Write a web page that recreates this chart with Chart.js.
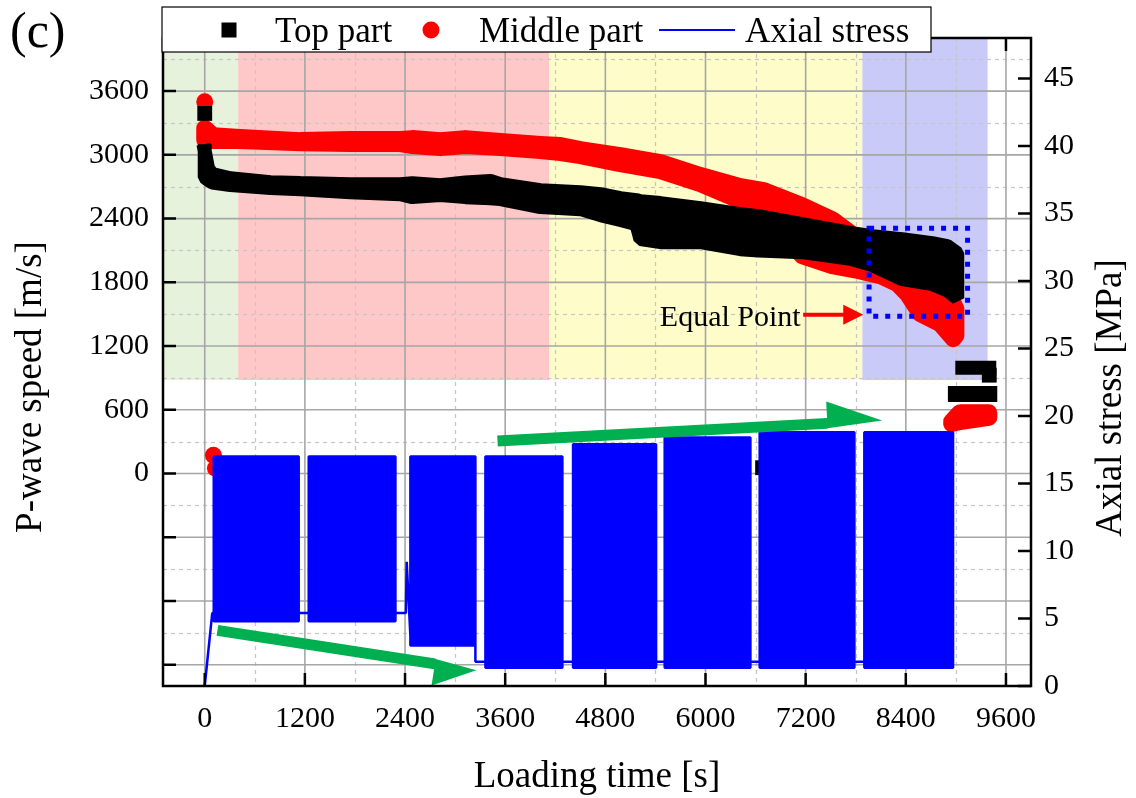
<!DOCTYPE html>
<html>
<head>
<meta charset="utf-8">
<title>P-wave speed and axial stress versus loading time</title>
<script src="https://cdn.jsdelivr.net/npm/chart.js@4.4.1/dist/chart.umd.min.js"></script>
<style>
  html, body { margin: 0; padding: 0; background: #ffffff; }
  canvas { display: block; }
</style>
</head>
<body>
<canvas id="chart" width="1136" height="798"></canvas>
<script>
// ---------- axes ----------
const timeTicks   = [0, 1200, 2400, 3600, 4800, 6000, 7200, 8400, 9600];
const speedTicks  = [-1800, -1200, -600, 0, 600, 1200, 1800, 2400, 3000, 3600];
const stressTicks = [0, 5, 10, 15, 20, 25, 30, 35, 40, 45];

// ---------- loading phases shaded behind the P-wave data ----------
const phaseStart = [-500, 400, 4130, 7880];
const phaseEnd   = [400, 4130, 7880, 9380];
const phaseColor = ['#E7F2DD', '#FFC8C8', '#FEFDC9', '#CACAF8'];
const phaseFloor = 880; // m/s

// ---------- Top part: P-wave speed spread (upper / lower edge of the scatter) ----------
const topTime  = [0, 40, 92, 308, 788, 1146, 1745, 2344, 2488, 2823, 3123, 3423, 3543, 4022, 4501, 4741, 4980, 5172, 5220, 5460, 5939, 6419, 6635, 7158, 7757, 7997, 8356, 8716, 8896, 9016];
const topUpper = [3035, 2870, 2819, 2780, 2743, 2734, 2724, 2724, 2734, 2715, 2740, 2755, 2724, 2668, 2649, 2630, 2593, 2574, 2564, 2546, 2498, 2442, 2423, 2348, 2263, 2235, 2206, 2169, 2141, 2075];
const topLower = [2790, 2765, 2740, 2715, 2687, 2677, 2649, 2630, 2602, 2621, 2602, 2592, 2583, 2508, 2489, 2433, 2386, 2348, 2207, 2178, 2178, 2112, 2100, 2084, 2018, 1962, 1830, 1783, 1726, 1651];
// after failure: two runs of readings at nearly constant speed
const topTailATime  = [9077, 9400];
const topTailASpeed = [996, 996];
const topTailBTime  = [9000, 9400];
const topTailBSpeed = [748, 748];
// isolated readings
const topPointTime  = [0, 6684, 9400];
const topPointSpeed = [3390, 55, 926];

// ---------- Middle part ----------
const midTime  = [0, 100, 420, 1146, 1745, 2344, 2488, 2823, 3123, 3543, 4022, 4262, 4501, 4980, 5460, 5939, 6419, 6700, 7158, 7518, 7840, 8094, 8298, 8418, 8574, 8813, 8969, 9000];
const midUpper = [3250, 3181, 3163, 3134, 3144, 3144, 3153, 3134, 3153, 3125, 3097, 3087, 3049, 2993, 2927, 2805, 2701, 2663, 2522, 2390, 2202, 2120, 2050, 2000, 1930, 1800, 1600, 1550];
const midLower = [3140, 3134, 3134, 3115, 3106, 3106, 3087, 3068, 3087, 3068, 3040, 3021, 2993, 2918, 2852, 2729, 2569, 2450, 2051, 1957, 1910, 1863, 1788, 1693, 1505, 1411, 1270, 1300];
const midTailTime  = [8950, 9050, 9395];
const midTailUpper = [490, 573, 573];
const midTailLower = [470, 490, 530];
const midPointTime  = [0, 104, 128];
const midPointSpeed = [3500, 172, 50];

// ---------- Axial stress: cyclic loading envelope (peak / trough per moment) ----------
const stressTime = [0, 90, 108, 108, 1126, 1126, 1246, 1246, 2285, 2285, 2410, 2420, 2464, 2464, 3243, 3243, 3363, 3363, 4285, 4285, 4413, 4413, 5408, 5408, 5511, 5511, 6538, 6538, 6649, 6649, 7784, 7784, 7903, 7903, 8966, 8966];
const stressHigh = [0, 5.4, 5.4, 17.0, 17.0, 5.4, 5.4, 17.0, 17.0, 5.4, 5.4, 9.2, 3.7, 17.0, 17.0, 1.8, 1.8, 17.0, 17.0, 1.8, 1.8, 17.9, 17.9, 1.8, 1.8, 18.4, 18.4, 1.8, 1.8, 18.8, 18.8, 1.8, 1.8, 18.8, 18.8, 1.35];
const stressLow  = [0, 5.4, 5.4, 4.8, 4.8, 5.4, 5.4, 4.8, 4.8, 5.4, 5.4, 9.2, 3.7, 3.0, 3.0, 1.8, 1.8, 1.35, 1.35, 1.8, 1.8, 1.35, 1.35, 1.8, 1.8, 1.35, 1.35, 1.8, 1.8, 1.35, 1.35, 1.8, 1.8, 1.35, 1.35, 1.35];

// ---------- annotations (data units) ----------
const equalBox   = { t0: 7960, t1: 9140, v0: 1480, v1: 2310 };
const equalLabel = { t: 7140, v: 1390, text: 'Equal Point' };
const equalArrow = { t0: 7170, t1: 7890, v: 1494 };
const trendArrows = [
  { t0: 152,  v0: -1476, t1: 3255, v1: -1852, up: 5,  down: 22, head: 42 },
  { t0: 3508, v0: 306,   t1: 8118, v1: 500,   up: 22, down: 5,  head: 55 }
];

const SERIF = 'Liberation Serif';

function bandPoints(time, upper, lower) {
  const pts = time.map((t, i) => ({ x: t, y: upper[i] }));
  for (let i = time.length - 1; i >= 0; i--) pts.push({ x: time[i], y: lower[i] });
  pts.push({ x: time[0], y: upper[0] });
  return pts;
}
function pointList(time, values) {
  return time.map((t, i) => ({ x: t, y: values[i] }));
}
function bandDataset(label, data, axis, color, width, join, order) {
  return {
    label, data, yAxisID: axis,
    borderColor: color, backgroundColor: color, borderWidth: width,
    borderJoinStyle: join, borderCapStyle: join === 'round' ? 'round' : 'square',
    fill: 'shape', pointRadius: 0, pointHoverRadius: 0, tension: 0, order
  };
}
function runDataset(label, data, color, width, order) {
  return {
    label, data, yAxisID: 'y',
    borderColor: color, backgroundColor: color, borderWidth: width,
    borderCapStyle: 'square', fill: false, pointRadius: 0, pointHoverRadius: 0, order
  };
}

function drawArrow(ctx, x0, y0, x1, y1, o) {
  const len = Math.hypot(x1 - x0, y1 - y0);
  const dx = (x1 - x0) / len, dy = (y1 - y0) / len;
  const nx = dy, ny = -dx;
  const bx = x1 - dx * o.head, by = y1 - dy * o.head;
  ctx.beginPath();
  ctx.moveTo(x0 + nx * o.shaft, y0 + ny * o.shaft);
  ctx.lineTo(bx + nx * o.shaft, by + ny * o.shaft);
  ctx.lineTo(bx + nx * o.up, by + ny * o.up);
  ctx.lineTo(x1, y1);
  ctx.lineTo(bx - nx * o.down, by - ny * o.down);
  ctx.lineTo(bx - nx * o.shaft, by - ny * o.shaft);
  ctx.lineTo(x0 - nx * o.shaft, y0 - ny * o.shaft);
  ctx.closePath();
  ctx.fillStyle = o.color;
  ctx.fill();
}

function minorValues(ticks, min, max) {
  const step = ticks[1] - ticks[0];
  const out = [];
  for (let i = -1; i < ticks.length; i++) {
    const v = (i < 0 ? ticks[0] : ticks[i]) + (i < 0 ? -step / 2 : step / 2);
    if (v > min && v < max) out.push(v);
  }
  return out;
}

const decor = {
  id: 'decor',
  beforeDatasetsDraw(chart) {
    const { ctx, chartArea: a, scales } = chart;
    const xs = scales.x, ys = scales.y;
    ctx.save();
    // loading phases
    const floorY = ys.getPixelForValue(phaseFloor);
    phaseStart.forEach((s, i) => {
      const x0 = Math.max(a.left, xs.getPixelForValue(s));
      const x1 = Math.min(a.right, xs.getPixelForValue(phaseEnd[i]));
      ctx.fillStyle = phaseColor[i];
      ctx.fillRect(x0, a.top, x1 - x0, floorY - a.top);
    });
    // minor grid
    ctx.strokeStyle = '#c6c6c6';
    ctx.lineWidth = 1.2;
    ctx.setLineDash([4, 4]);
    minorValues(timeTicks, xs.min, xs.max).forEach(v => {
      const x = Math.round(xs.getPixelForValue(v)) + 0.5;
      ctx.beginPath(); ctx.moveTo(x, a.top); ctx.lineTo(x, a.bottom); ctx.stroke();
    });
    minorValues(speedTicks, ys.min, ys.max).forEach(v => {
      const y = Math.round(ys.getPixelForValue(v)) + 0.5;
      ctx.beginPath(); ctx.moveTo(a.left, y); ctx.lineTo(a.right, y); ctx.stroke();
    });
    // major grid
    ctx.setLineDash([]);
    ctx.strokeStyle = '#a6a6a6';
    ctx.lineWidth = 1.6;
    timeTicks.forEach(v => {
      const x = xs.getPixelForValue(v);
      ctx.beginPath(); ctx.moveTo(x, a.top); ctx.lineTo(x, a.bottom); ctx.stroke();
    });
    speedTicks.forEach(v => {
      const y = ys.getPixelForValue(v);
      ctx.beginPath(); ctx.moveTo(a.left, y); ctx.lineTo(a.right, y); ctx.stroke();
    });
    ctx.restore();
  },
  afterDatasetsDraw(chart) {
    const { ctx, chartArea: a, scales } = chart;
    const xs = scales.x, ys = scales.y, y2 = scales.y2;
    ctx.save();

    // trend arrows
    trendArrows.forEach(ar => {
      drawArrow(ctx,
        xs.getPixelForValue(ar.t0), ys.getPixelForValue(ar.v0),
        xs.getPixelForValue(ar.t1), ys.getPixelForValue(ar.v1),
        { shaft: 5.5, up: ar.up, down: ar.down, head: ar.head, color: '#00B050' });
    });

    // equal point box, label and arrow
    const bx0 = xs.getPixelForValue(equalBox.t0), bx1 = xs.getPixelForValue(equalBox.t1);
    const by0 = ys.getPixelForValue(equalBox.v1), by1 = ys.getPixelForValue(equalBox.v0);
    ctx.strokeStyle = '#0000FF';
    ctx.lineWidth = 5;
    ctx.setLineDash([5, 7]);
    ctx.strokeRect(bx0, by0, bx1 - bx0, by1 - by0);
    ctx.setLineDash([]);

    ctx.fillStyle = '#000';
    ctx.font = '30px "' + SERIF + '"';
    ctx.textAlign = 'right';
    ctx.textBaseline = 'alphabetic';
    ctx.fillText(equalLabel.text, xs.getPixelForValue(equalLabel.t), ys.getPixelForValue(equalLabel.v));
    const ay = ys.getPixelForValue(equalArrow.v);
    drawArrow(ctx, xs.getPixelForValue(equalArrow.t0), ay, xs.getPixelForValue(equalArrow.t1), ay,
      { shaft: 2, up: 10, down: 10, head: 20, color: '#FF0000' });

    // frame and inward ticks
    ctx.strokeStyle = '#000';
    ctx.lineWidth = 2.5;
    ctx.strokeRect(a.left, a.top, a.right - a.left, a.bottom - a.top);
    const tl = 13;
    ctx.beginPath();
    timeTicks.forEach(v => {
      const x = xs.getPixelForValue(v);
      ctx.moveTo(x, a.bottom); ctx.lineTo(x, a.bottom - tl);
      ctx.moveTo(x, a.top); ctx.lineTo(x, a.top + tl);
    });
    speedTicks.forEach(v => {
      const y = ys.getPixelForValue(v);
      ctx.moveTo(a.left, y); ctx.lineTo(a.left + tl, y);
    });
    stressTicks.forEach(v => {
      const y = y2.getPixelForValue(v);
      ctx.moveTo(a.right, y); ctx.lineTo(a.right - tl, y);
    });
    ctx.stroke();
    ctx.restore();
  },
  afterDraw(chart) {
    const { ctx, chartArea: a } = chart;
    ctx.save();

    // legend
    ctx.fillStyle = '#fff';
    ctx.fillRect(162, 7, 769, 45);
    ctx.strokeStyle = '#000';
    ctx.lineWidth = 1.2;
    ctx.strokeRect(162, 7, 769, 45);
    const ly = 30;
    const entries = [
      { ds: 1, marker: 'square', mx: 229, tx: 275 },
      { ds: 5, marker: 'circle', mx: 431, tx: 479 },
      { ds: 0, marker: 'line',   mx: 697, tx: 745 }
    ];
    ctx.font = '35px "' + SERIF + '"';
    ctx.textAlign = 'left';
    ctx.textBaseline = 'alphabetic';
    entries.forEach(e => {
      const d = chart.data.datasets[e.ds];
      ctx.fillStyle = d.borderColor;
      ctx.strokeStyle = d.borderColor;
      if (e.marker === 'square') ctx.fillRect(e.mx - 7.5, ly - 7.5, 15, 15);
      else if (e.marker === 'circle') { ctx.beginPath(); ctx.arc(e.mx, ly, 8.5, 0, Math.PI * 2); ctx.fill(); }
      else { ctx.lineWidth = 2; ctx.beginPath(); ctx.moveTo(e.mx - 38, ly); ctx.lineTo(e.mx + 38, ly); ctx.stroke(); }
      ctx.fillStyle = '#000';
      ctx.fillText(d.label, e.tx, 41.5);
    });

    // panel letter
    ctx.font = '50px "' + SERIF + '"';
    ctx.fillText('(c)', 10, 47);

    // axis titles
    ctx.font = '37px "' + SERIF + '"';
    ctx.textAlign = 'center';
    ctx.fillText('Loading time [s]', (a.left + a.right) / 2, 787);
    ctx.save();
    ctx.translate(41, 387);
    ctx.rotate(-Math.PI / 2);
    ctx.fillText('P-wave speed [m/s]', 0, 0);
    ctx.restore();
    ctx.save();
    ctx.translate(1121, 398);
    ctx.rotate(-Math.PI / 2);
    ctx.fillText('Axial stress [MPa]', 0, 0);
    ctx.restore();

    ctx.restore();
  }
};

const tickFont = { family: SERIF, size: 30 };
const noGrid = { display: false, drawTicks: false, tickLength: 0 };

new Chart(document.getElementById('chart'), {
  type: 'line',
  data: {
    datasets: [
      bandDataset('Axial stress', bandPoints(stressTime, stressHigh, stressLow), 'y2', '#0000FF', 2.5, 'bevel', 0),
      bandDataset('Top part', bandPoints(topTime, topUpper, topLower), 'y', '#000000', 14, 'bevel', 1),
      runDataset('Top part, after failure A', pointList(topTailATime, topTailASpeed), '#000000', 14, 1),
      runDataset('Top part, after failure B', pointList(topTailBTime, topTailBSpeed), '#000000', 16, 1),
      {
        label: 'Top part, single readings', data: pointList(topPointTime, topPointSpeed), yAxisID: 'y',
        showLine: false, pointStyle: 'rect', pointRadius: 10.5, pointBorderWidth: 0,
        pointBackgroundColor: '#000000', borderColor: '#000000', order: 1
      },
      bandDataset('Middle part', bandPoints(midTime, midUpper, midLower), 'y', '#FF0000', 17, 'round', 2),
      bandDataset('Middle part, after failure', bandPoints(midTailTime, midTailUpper, midTailLower), 'y', '#FF0000', 17, 'round', 2),
      {
        label: 'Middle part, single readings', data: pointList(midPointTime, midPointSpeed), yAxisID: 'y',
        showLine: false, pointStyle: 'circle', pointRadius: 8.5, pointBorderWidth: 0,
        pointBackgroundColor: '#FF0000', borderColor: '#FF0000', order: 2
      }
    ]
  },
  options: {
    responsive: false,
    devicePixelRatio: 1,
    animation: false,
    events: [],
    layout: { padding: { top: 38, left: 0, right: 0, bottom: 0 } },
    plugins: { legend: { display: false }, tooltip: { enabled: false } },
    scales: {
      x: {
        type: 'linear', position: 'bottom', min: -500, max: 9900,
        afterBuildTicks: s => { s.ticks = timeTicks.map(v => ({ value: v })); },
        afterFit: s => { s.height = 112; },
        grid: noGrid, border: { display: false },
        ticks: { autoSkip: false, maxRotation: 0, padding: 15, color: '#000', font: tickFont, callback: v => String(v) }
      },
      y: {
        type: 'linear', position: 'left', min: -2000, max: 4100,
        afterBuildTicks: s => { s.ticks = speedTicks.map(v => ({ value: v })); },
        afterFit: s => { s.width = 163; },
        grid: noGrid, border: { display: false },
        ticks: { autoSkip: false, padding: 14, color: '#000', font: tickFont, callback: v => (v >= 0 ? String(v) : '') }
      },
      y2: {
        type: 'linear', position: 'right', min: 0, max: 48,
        afterBuildTicks: s => { s.ticks = stressTicks.map(v => ({ value: v })); },
        afterFit: s => { s.width = 105; },
        grid: noGrid, border: { display: false },
        ticks: { autoSkip: false, padding: 13, color: '#000', font: tickFont, callback: v => String(v) }
      }
    }
  },
  plugins: [decor]
});
</script>
</body>
</html>
